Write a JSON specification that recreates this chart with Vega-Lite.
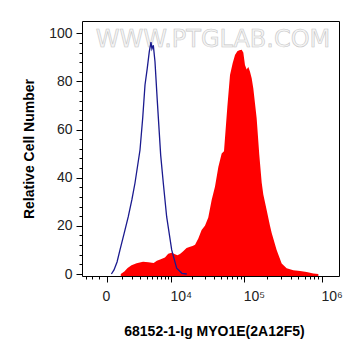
{
  "$schema": "https://vega.github.io/schema/vega-lite/v6.json",
  "width": 257,
  "height": 255,
  "autosize": {"type": "none"},
  "padding": {"left": 82, "top": 21, "right": 22, "bottom": 80},
  "background": "white",
  "config": {"view": {"stroke": "black", "strokeWidth": 1}},
  "datasets": {
    "wm": [{"x": 38880, "y": 97.2, "label": "WWW.PTGLAB.COM"}],
    "red": [
      {"x": 900, "y": 0}, {"x": 1200, "y": 1}, {"x": 1500, "y": 2.5}, {"x": 1900, "y": 3.6},
      {"x": 2500, "y": 4.5}, {"x": 3400, "y": 5.1}, {"x": 4300, "y": 4.9}, {"x": 5300, "y": 4.6},
      {"x": 6000, "y": 5.5}, {"x": 6800, "y": 6.0}, {"x": 8100, "y": 6.9}, {"x": 9100, "y": 8.4},
      {"x": 10300, "y": 8.8}, {"x": 11500, "y": 8.2}, {"x": 12500, "y": 7.8}, {"x": 13600, "y": 8.3},
      {"x": 15000, "y": 9.3}, {"x": 16900, "y": 10.8}, {"x": 18900, "y": 11.3}, {"x": 20500, "y": 11.6},
      {"x": 22200, "y": 12.2}, {"x": 24600, "y": 14.8}, {"x": 27300, "y": 18.3}, {"x": 30300, "y": 20},
      {"x": 33600, "y": 23.5}, {"x": 37300, "y": 30.7}, {"x": 41300, "y": 36.2}, {"x": 45800, "y": 44.5},
      {"x": 50700, "y": 50.1}, {"x": 54400, "y": 51}, {"x": 57800, "y": 62}, {"x": 60200, "y": 69.4},
      {"x": 65300, "y": 82.7}, {"x": 70700, "y": 87.5}, {"x": 75900, "y": 91}, {"x": 81400, "y": 92.5},
      {"x": 86400, "y": 93}, {"x": 92700, "y": 93.2}, {"x": 97400, "y": 92}, {"x": 102400, "y": 86.8},
      {"x": 107600, "y": 85}, {"x": 113200, "y": 86}, {"x": 119000, "y": 84}, {"x": 125100, "y": 81.3},
      {"x": 131400, "y": 77.1}, {"x": 145100, "y": 64.7}, {"x": 157000, "y": 49.4}, {"x": 168500, "y": 38},
      {"x": 176900, "y": 33}, {"x": 195300, "y": 26.6}, {"x": 215600, "y": 20}, {"x": 226800, "y": 17},
      {"x": 262600, "y": 10}, {"x": 305000, "y": 4.4}, {"x": 353000, "y": 2.4}, {"x": 430000, "y": 1.6},
      {"x": 524000, "y": 1.2}, {"x": 638000, "y": 0.8}, {"x": 776000, "y": 0.2}, {"x": 900000, "y": 0}
    ],
    "blue": [
      {"x": 250, "y": 0}, {"x": 412, "y": 1.7}, {"x": 620, "y": 5}, {"x": 838, "y": 10},
      {"x": 1186, "y": 17}, {"x": 1566, "y": 23.8}, {"x": 1950, "y": 31}, {"x": 2302, "y": 37.8},
      {"x": 2952, "y": 51.5}, {"x": 3343, "y": 64.7}, {"x": 3705, "y": 78.5}, {"x": 4088, "y": 85.5},
      {"x": 4446, "y": 92.4}, {"x": 4766, "y": 96.3}, {"x": 4950, "y": 93.5}, {"x": 5232, "y": 95.0},
      {"x": 5586, "y": 88.2}, {"x": 6115, "y": 71.6}, {"x": 6930, "y": 49.4}, {"x": 7636, "y": 37.7},
      {"x": 8608, "y": 23.8}, {"x": 10271, "y": 10}, {"x": 12168, "y": 2.4}, {"x": 14500, "y": 0.3},
      {"x": 17000, "y": 0}
    ]
  },
  "encoding": {
    "x": {
      "field": "x", "type": "quantitative",
      "scale": {"type": "symlog", "constant": 1800, "domain": [-1954, 1653300], "nice": false, "zero": false},
      "axis": {
        "values": [-1500, -1000, -500, 0, 1000, 2000, 3000, 4000, 5000, 6000, 7000, 8000, 9000, 10000, 20000, 30000, 40000, 50000, 60000, 70000, 80000, 90000, 100000, 200000, 300000, 400000, 500000, 600000, 700000, 800000, 900000, 1000000],
        "labelExpr": "datum.value == 0 ? '0' : datum.value == 10000 ? '10⁴' : datum.value == 100000 ? '10⁵' : datum.value == 1000000 ? '10⁶' : ''",
        "labelOverlap": false,
        "labelFlush": false,
        "labelBound": false,
        "labelAlign": {"condition": {"test": "datum.value == 0", "value": "center"}, "value": "left"},
        "labelOffset": -1,
        "tickSize": {"condition": {"test": "datum.value == 0 || datum.value == 10000 || datum.value == 100000 || datum.value == 1000000", "value": 6}, "value": 3},
        "tickColor": "black",
        "domain": false,
        "grid": false,
        "labelFont": "Liberation Sans",
        "labelFontSize": 14,
        "labelColor": "#222222",
        "labelPadding": 7,
        "title": "68152-1-Ig MYO1E(2A12F5)",
        "titleFont": "Liberation Sans",
        "titleFontSize": 14,
        "titleFontWeight": "bold",
        "titleColor": "black",
        "titleX": 132,
        "titleY": 59,
        "titleBaseline": "alphabetic",
        "titleAlign": "center"
      }
    },
    "y": {
      "field": "y", "type": "quantitative",
      "scale": {"domain": [-0.83, 105.1], "nice": false, "zero": false},
      "axis": {
        "values": [0, 4, 8, 12, 16, 20, 24, 28, 32, 36, 40, 44, 48, 52, 56, 60, 64, 68, 72, 76, 80, 84, 88, 92, 96, 100],
        "labelExpr": "datum.value % 20 == 0 ? datum.label : ''",
        "labelOverlap": false,
        "labelFlush": false,
        "labelBound": false,
        "tickSize": {"condition": {"test": "datum.value % 20 == 0", "value": 6}, "value": 3},
        "tickColor": "black",
        "domain": false,
        "grid": false,
        "labelFont": "Liberation Sans",
        "labelFontSize": 14,
        "labelColor": "#222222",
        "labelPadding": 4,
        "title": "Relative Cell Number",
        "titleFont": "Liberation Sans",
        "titleFontSize": 14,
        "titleFontWeight": "bold",
        "titleColor": "black",
        "titleX": -49,
        "titleY": 127.5,
        "titleAngle": 270,
        "titleBaseline": "alphabetic",
        "titleAlign": "center"
      }
    }
  },
  "layer": [
    {
      "data": {"name": "red"},
      "mark": {"type": "area", "color": "#ff0000", "interpolate": "linear"},
      "encoding": {"y2": {"datum": -0.8}}
    },
    {
      "data": {"name": "wm"},
      "mark": {"type": "text", "font": "DejaVu Sans", "fontSize": 24, "fill": "#f5f5f5", "stroke": "#c6c6c6", "strokeWidth": 0.6, "align": "center", "baseline": "middle"},
      "encoding": {"text": {"field": "label"}}
    },
    {
      "data": {"name": "blue"},
      "mark": {"type": "line", "color": "#1a1a8f", "strokeWidth": 1.3, "interpolate": "linear"},
      "encoding": {}
    }
  ]
}
